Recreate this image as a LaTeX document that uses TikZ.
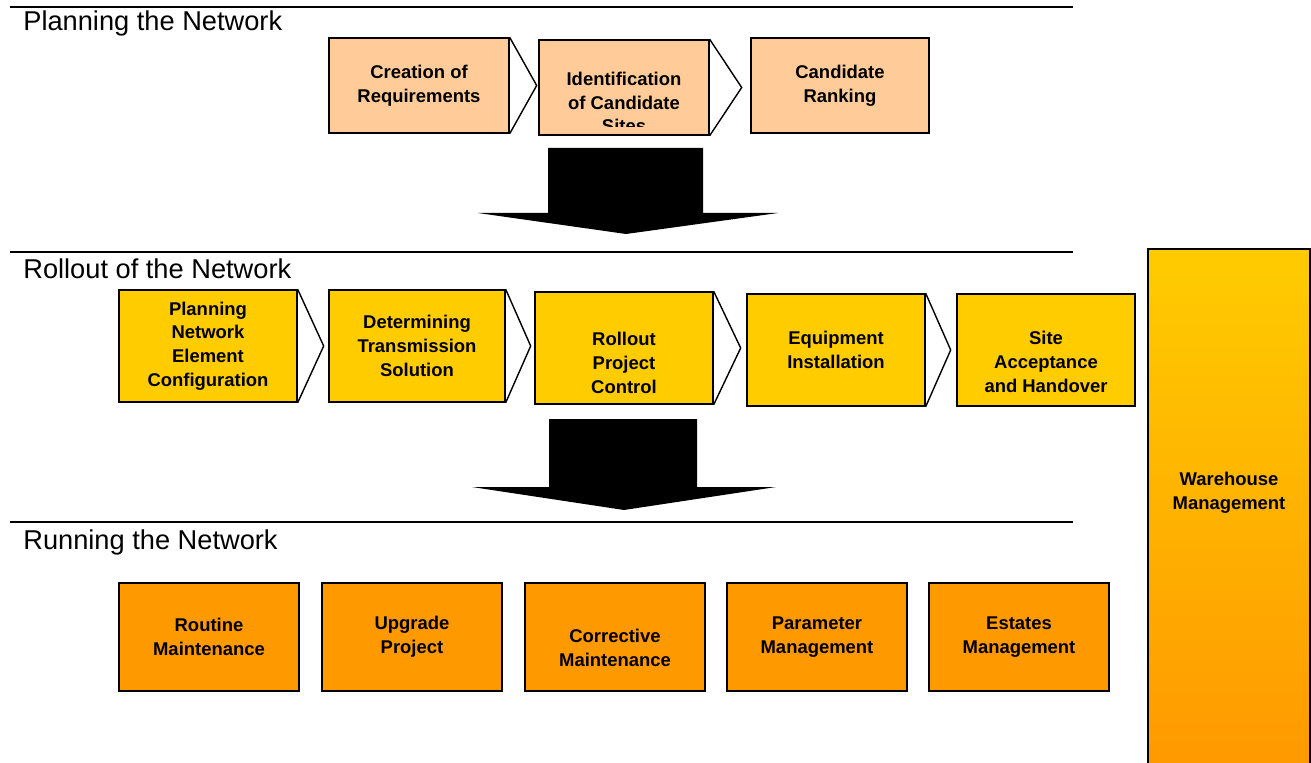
\documentclass[tikz,border=0pt]{standalone}
\usepackage{fontspec}
\setmainfont{Liberation Sans}
\usepackage{tikz}
\usetikzlibrary{positioning}

\definecolor{peach}{HTML}{FFCC99}
\definecolor{gold}{HTML}{FFCC00}
\definecolor{amber}{HTML}{FF9900}

\begin{document}
\begin{tikzpicture}[x=0.02cm, y=-0.02cm,
    lbl/.style={align=center, inner sep=0pt, font=\fontsize{10.5}{13.5}\selectfont\bfseries},
    stage/.style={lbl, draw, line width=0.8pt},
    plan/.style={stage, fill=peach, minimum height=1.9cm},
    roll/.style={stage, fill=gold, minimum width=3.56cm, minimum height=2.24cm},
    run/.style={stage, fill=amber, minimum width=3.6cm, minimum height=2.16cm},
    phase/.style={anchor=base west, inner sep=0pt, font=\fontsize{15.5}{18}\selectfont},
    divider/.style={line width=1.1pt},
    chev/.style={line width=0.8pt, line join=miter}]
    \useasboundingbox (0,0) rectangle (1311,763);

    % phase headings
    \draw[divider] (10,7) -- (1073,7);
    \node[phase] (hplan) at (23,31) {Planning the Network};
    \draw[divider] (10,252) -- (1073,252);
    \node[phase] (hroll) at (23,279) {Rollout of the Network};
    \draw[divider] (10,522) -- (1073,522);
    \node[phase] (hrun) at (23,549) {Running the Network};

    % planning
    \node[plan, minimum width=3.6cm] (p1) at (419,85.5) {Creation of\\Requirements};
    \node[plan, minimum width=3.4cm] (p2) at (624,87.5) {};
    \begin{scope}
        \clip ([yshift=0.18cm]p2.south west) rectangle (p2.north east);
        \node[lbl] (p2t) at ([yshift=-0.3cm]p2.center) {Identification\\of Candidate\\Sites};
    \end{scope}
    \node[plan, minimum width=3.56cm] (p3) at (840,85.5) {Candidate\\Ranking};
    \draw[chev] (p1.north east) -- ([xshift=0.54cm]p1.east) -- (p1.south east);
    \draw[chev] (p2.north east) -- ([xshift=0.64cm]p2.east) -- (p2.south east);

    % arrow down
    \fill (548,148) -- (703,148) -- (703,213) -- (778,213) -- (626,234)
        -- (478,213) -- (548,213) -- cycle;

    % rollout
    \node[roll] (r1) at (208,346) {Planning\\Network\\Element\\Configuration};
    \node[roll, minimum width=3.52cm] (r2) at (417,346) {Determining\\Transmission\\Solution};
    \node[roll] (r3) at (624,348) {};
    \node[lbl] (r3t) at ([yshift=-0.3cm]r3.center) {Rollout\\Project\\Control};
    \node[roll] (r4) at (836,350) {Equipment\\Installation};
    \node[roll] (r5) at (1046,350) {};
    \node[lbl] (r5t) at ([yshift=-0.24cm]r5.center) {Site\\Acceptance\\and Handover};
    \foreach \b/\d in {r1/0.52, r2/0.5, r3/0.54, r4/0.5} {
        \draw[chev] (\b.north east) -- ([xshift=\d cm]\b.east) -- (\b.south east);
    }

    % arrow down
    \fill (549,419) -- (697,419) -- (697,487) -- (776,487) -- (624,510)
        -- (472,487) -- (549,487) -- cycle;

    % running
    \node[run] (u1) at (209,637) {Routine\\Maintenance};
    \node[run] (u2) at (412,637) {Upgrade\\Project};
    \node[run] (u3) at (615,637) {};
    \node[lbl] (u3t) at ([yshift=-0.22cm]u3.center) {Corrective\\Maintenance};
    \node[run] (u4) at (817,637) {Parameter\\Management};
    \node[run] (u5) at (1019,637) {Estates\\Management};

    % warehouse, spans all phases
    \node[stage, minimum width=3.24cm, minimum height=10.36cm,
        top color=gold, bottom color=amber] (wh) at (1229,508) {};
    \node[lbl] (wht) at ([yshift=0.3cm]wh.center) {Warehouse\\Management};
\end{tikzpicture}
\end{document}
